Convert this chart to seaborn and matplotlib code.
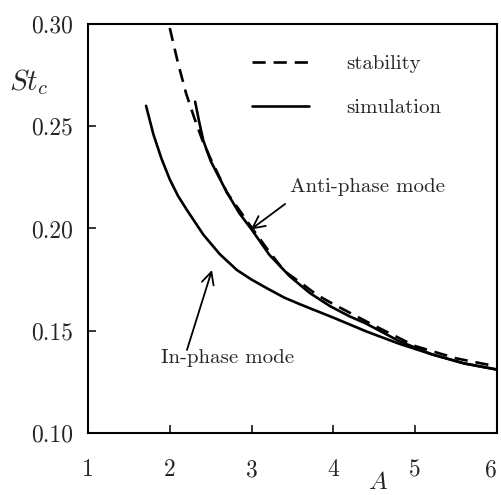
"""
Critical Strouhal number vs amplitude: stability analysis vs simulation
"""

import numpy as np
import pandas as pd
import matplotlib
matplotlib.use("Agg")
import matplotlib.pyplot as plt
import seaborn as sns

# values
A_stab  = [2.0, 2.1, 2.2, 2.3, 2.4, 2.5, 2.7, 3.0, 3.2, 3.4, 3.6, 3.8, 4.0,
           4.5, 5.0, 5.5, 6.0]
St_stab = [0.298, 0.281, 0.266, 0.254, 0.243, 0.234, 0.2175, 0.2005, 0.1895,
           0.1792, 0.1735, 0.1675, 0.163, 0.1525, 0.1425, 0.1365, 0.1325]

A_anti  = [2.31, 2.36, 2.41, 2.5, 2.7, 2.85, 3.0, 3.22, 3.47, 3.71, 3.96, 4.2,
           4.4, 4.8, 5.2, 5.6, 6.0]
St_anti = [0.262, 0.252, 0.243, 0.233, 0.2175, 0.2075, 0.1995, 0.187, 0.1765,
           0.1685, 0.162, 0.157, 0.1535, 0.145, 0.1385, 0.134, 0.131]

A_in  = [1.71, 1.80, 1.90, 2.0, 2.1, 2.21, 2.41, 2.61, 2.82, 3.0, 3.2, 3.4, 3.6,
         3.8, 4.0, 4.4, 4.8, 5.2, 5.6, 6.0]
St_in = [0.260, 0.246, 0.234, 0.224, 0.216, 0.209, 0.197, 0.1875, 0.1797, 0.175,
         0.1705, 0.1662, 0.1628, 0.1596, 0.1564, 0.1497, 0.1437, 0.1385, 0.134, 0.131]

x_ticks = [1, 2, 3, 4, 5, 6]
y_ticks = [0.10, 0.15, 0.20, 0.25, 0.30]

sns.set_style("ticks")
plt.rcParams["font.family"] = ["cmr10", "DejaVu Serif"]
plt.rcParams["mathtext.fontset"] = "cm"
plt.rcParams["axes.formatter.use_mathtext"] = True

fig = plt.figure(figsize=(5.01, 4.95), dpi=100)
ax = fig.add_axes([0.1756, 0.1253, 0.8164, 0.8262])

sns.lineplot(x=A_stab, y=St_stab, ax=ax, color="black", lw=1.9,
             linestyle=(0, (5, 3)), label="stability", sort=False)
sns.lineplot(x=A_anti, y=St_anti, ax=ax, color="black", lw=1.9,
             label="simulation", sort=False)
sns.lineplot(x=A_in, y=St_in, ax=ax, color="black", lw=1.9, sort=False)

ax.set_xlim(1, 6)
ax.set_ylim(0.10, 0.30)
ax.set_xticks(x_ticks)
ax.set_xticklabels([str(t) for t in x_ticks])
ax.set_yticks(y_ticks)
ax.set_yticklabels([f"{t:.2f}" for t in y_ticks])
ax.tick_params(axis="x", direction="in", length=6, width=1.3, labelsize=17, pad=19,
               top=False)
ax.tick_params(axis="y", direction="in", length=6, width=1.3, labelsize=17, pad=11,
               right=False)
# last x label sits flush with the right edge
ax.get_xticklabels()[-1].set_horizontalalignment("right")
for s in ax.spines.values():
    s.set_visible(True)
    s.set_linewidth(1.5)
    s.set_color("black")

ax.set_ylabel("$St_c$", fontsize=21, rotation=0, ha="center", va="center")
ax.yaxis.set_label_coords(-0.145, 0.858)
ax.set_xlabel("$A$", fontsize=18, va="bottom")
ax.xaxis.set_label_coords(0.71, -0.148)

# annotations
arrow = dict(arrowstyle="->", color="black", lw=1.3, mutation_scale=22,
             shrinkA=0, shrinkB=0)
ax.annotate("", xy=(2.99, 0.1995), xytext=(3.41, 0.212), arrowprops=arrow)
ax.text(3.47, 0.218, "Anti-phase mode", fontsize=15, ha="left", va="baseline")
ax.annotate("", xy=(2.516, 0.1797), xytext=(2.21, 0.1406), arrowprops=arrow)
ax.text(1.89, 0.1344, "In-phase mode", fontsize=15, ha="left", va="baseline")

leg = ax.legend(loc="upper left", bbox_to_anchor=(0.40, 0.925), frameon=False,
                fontsize=15, handlelength=2.75, handletextpad=1.8,
                labelspacing=1.2, borderpad=0, borderaxespad=0)

plt.savefig("out.png", dpi=100)
